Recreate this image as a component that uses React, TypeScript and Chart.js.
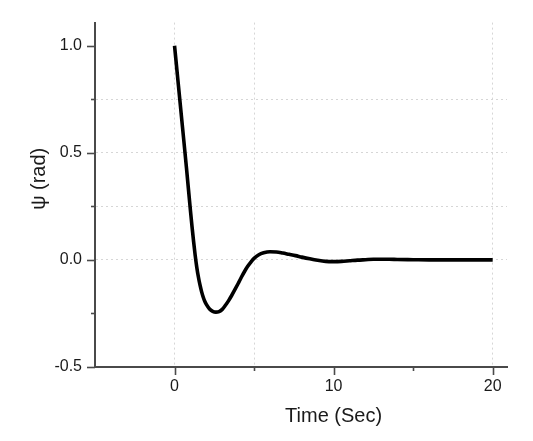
import React, { useEffect, useRef } from "react";
import { Chart, registerables } from "chart.js";

Chart.register(...registerables);

// Yaw angle response over time
const timeValues = [
  0, 0.25, 0.5, 0.75, 1.0, 1.1, 1.2, 1.3, 1.4, 1.5, 1.6, 1.7, 1.8, 1.9, 2.0,
  2.2, 2.4, 2.6, 2.8, 3.0, 3.2, 3.4, 3.6, 3.8, 4.0, 4.2, 4.4, 4.6, 4.8, 5.0,
  5.3, 5.6, 6.0, 6.4, 6.8, 7.2, 7.6, 8.0, 8.5, 9.0, 9.5, 10.0, 10.5, 11.0,
  11.5, 12.0, 12.5, 13.0, 13.5, 14.0, 15.0, 16.0, 17.0, 18.0, 19.0, 20.0,
];
const psiValues = [
  1.0, 0.81, 0.62, 0.43, 0.23, 0.155, 0.085, 0.02, -0.035, -0.08, -0.117,
  -0.148, -0.173, -0.193, -0.208, -0.229, -0.24, -0.244, -0.241, -0.231,
  -0.212, -0.19, -0.165, -0.138, -0.11, -0.081, -0.054, -0.03, -0.01, 0.007,
  0.024, 0.033, 0.038, 0.037, 0.032, 0.026, 0.02, 0.013, 0.005, -0.002,
  -0.007, -0.008, -0.007, -0.004, -0.001, 0.001, 0.003, 0.003, 0.003, 0.002,
  0.001, 0, 0, 0, 0, 0,
];

const xTickValues = [-5, 0, 5, 10, 15, 20];
const xLabelValues = [0, 10, 20];
const xGridValues = [0, 5, 20];
const yTickValues = [-0.5, -0.25, 0, 0.25, 0.5, 0.75, 1.0];
const yLabelValues = [-0.5, 0, 0.5, 1.0];
const yGridValues = [0, 0.25, 0.5, 0.75];

const xTitle = "Time (Sec)";
const yTitle = "ψ (rad)";

const FONT = "'Liberation Sans', Arial, sans-serif";
const AXIS_COLOR = "#4a4a4a";
const GRID_COLOR = "#d6d6d6";

const near = (list: number[], v: number) => list.some((a) => Math.abs(a - v) < 1e-9);

// Outward tick marks (long for labelled ticks, short otherwise) and axis titles
const axisDecor = {
  id: "axisDecor",
  afterDraw(chart: any) {
    const { ctx, chartArea, scales } = chart;
    const xs = scales.x;
    const ys = scales.y;
    ctx.save();
    ctx.strokeStyle = AXIS_COLOR;
    ctx.lineWidth = 1.6;
    for (const v of xTickValues) {
      if (v <= xs.min) continue;
      const px = Math.round(xs.getPixelForValue(v)) + 0.5;
      const len = near(xLabelValues, v) ? 8 : 4;
      ctx.beginPath();
      ctx.moveTo(px, chartArea.bottom);
      ctx.lineTo(px, chartArea.bottom + len);
      ctx.stroke();
    }
    for (const v of yTickValues) {
      const py = Math.round(ys.getPixelForValue(v)) + 0.5;
      const len = near(yLabelValues, v) ? 8 : 4;
      ctx.beginPath();
      ctx.moveTo(chartArea.left, py);
      ctx.lineTo(chartArea.left - len, py);
      ctx.stroke();
    }
    ctx.fillStyle = "#1a1a1a";
    ctx.font = `20px ${FONT}`;
    ctx.textAlign = "center";
    ctx.textBaseline = "middle";
    ctx.fillText(xTitle, xs.getPixelForValue(10), chartArea.bottom + 49);
    ctx.translate(39, (chartArea.top + chartArea.bottom) / 2 - 16);
    ctx.rotate(-Math.PI / 2);
    ctx.fillText(yTitle, 0, 0);
    ctx.restore();
  },
};

export default function App() {
  const canvasRef = useRef<HTMLCanvasElement | null>(null);

  useEffect(() => {
    const canvas = canvasRef.current;
    if (!canvas) return;
    const points = timeValues.map((t, i) => ({ x: t, y: psiValues[i] }));
    const chart = new Chart(canvas, {
      type: "line",
      data: {
        datasets: [
          {
            data: points,
            borderColor: "#000000",
            borderWidth: 3.6,
            pointRadius: 0,
            cubicInterpolationMode: "monotone",
            fill: false,
          },
        ],
      },
      options: {
        animation: false,
        responsive: false,
        devicePixelRatio: 1,
        layout: { padding: { left: 0, top: 20, right: 26, bottom: 0 } },
        plugins: {
          legend: { display: false },
          tooltip: { enabled: false },
          title: { display: false },
        },
        scales: {
          x: {
            type: "linear",
            min: -5,
            max: 20.9,
            afterFit: (scale: any) => {
              scale.height = 74;
            },
            afterBuildTicks: (scale: any) => {
              scale.ticks = xTickValues.map((v) => ({ value: v }));
            },
            ticks: {
              autoSkip: false,
              maxRotation: 0,
              padding: 10,
              color: "#1a1a1a",
              font: { family: FONT, size: 16 },
              callback: (v: any) => (near(xLabelValues, Number(v)) ? String(v) : ""),
            },
            grid: {
              drawTicks: false,
              lineWidth: 1,
              color: (c: any) =>
                c.tick && near(xGridValues, c.tick.value) ? GRID_COLOR : "rgba(0,0,0,0)",
            },
            border: { display: true, color: AXIS_COLOR, width: 2, dash: [2, 3] },
          },
          y: {
            type: "linear",
            min: -0.5,
            max: 1.108,
            afterFit: (scale: any) => {
              scale.width = 95;
            },
            afterBuildTicks: (scale: any) => {
              scale.ticks = yTickValues.map((v) => ({ value: v }));
            },
            ticks: {
              autoSkip: false,
              padding: 13,
              color: "#1a1a1a",
              font: { family: FONT, size: 16 },
              callback: (v: any) =>
                near(yLabelValues, Number(v)) ? Number(v).toFixed(1) : "",
            },
            grid: {
              drawTicks: false,
              lineWidth: 1,
              color: (c: any) =>
                c.tick && near(yGridValues, c.tick.value) ? GRID_COLOR : "rgba(0,0,0,0)",
            },
            border: { display: true, color: AXIS_COLOR, width: 2, dash: [2, 3] },
          },
        },
      },
      plugins: [axisDecor],
    });
    return () => chart.destroy();
  }, []);

  return (
    <div style={{ position: "fixed", left: 0, top: 0, width: 533, height: 441, background: "#ffffff" }}>
      <canvas ref={canvasRef} width={533} height={441} />
    </div>
  );
}
